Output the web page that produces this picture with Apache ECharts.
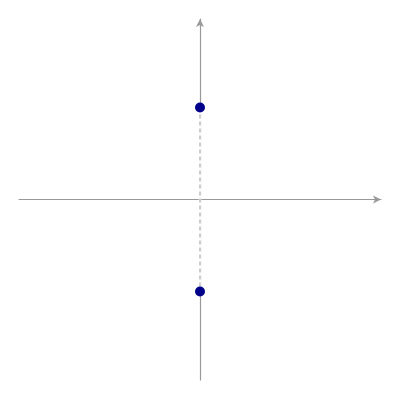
<!DOCTYPE html>
<html>
<head>
<meta charset="utf-8">
<script src="https://cdn.jsdelivr.net/npm/echarts@6/dist/echarts.min.js"></script>
<style>html,body{margin:0;padding:0;background:#fff}#chart{width:400px;height:400px}</style>
</head>
<body>
<div id="chart"></div>
<script>
// two points on the y axis, joined by a dashed segment
const pointX = [0, 0];
const pointY = [0.51, -0.51];
const xRange = [-1, 1];
const yRange = [-1, 1];

const chart = echarts.init(document.getElementById('chart'), null, { renderer: 'canvas' });
const pts = pointX.map((x, i) => [x, pointY[i]]);

const axisCommon = {
  type: 'value',
  axisLine: { show: true, onZero: true, symbol: ['none', 'arrow'], symbolSize: [6, 8], lineStyle: { color: '#999', width: 1.2 } },
  axisTick: { show: false },
  axisLabel: { show: false },
  splitLine: { show: false }
};

chart.setOption({
  animation: false,
  grid: { left: 19, right: 19, top: 19, bottom: 20 },
  xAxis: Object.assign({}, axisCommon, { min: xRange[0], max: xRange[1] }),
  yAxis: Object.assign({}, axisCommon, { min: yRange[0], max: yRange[1] }),
  series: [
    // white cover so the axis looks broken between the points
    { type: 'line', data: pts, symbol: 'none', lineStyle: { color: '#fff', width: 2.5 }, z: 3 },
    { type: 'line', data: pts, symbol: 'none', lineStyle: { color: '#aaa', width: 1.2, type: [4, 3] }, z: 4 },
    { type: 'scatter', data: pts, symbolSize: 10, itemStyle: { color: '#00008b', opacity: 1 }, z: 5 }
  ]
});
</script>
</body>
</html>
